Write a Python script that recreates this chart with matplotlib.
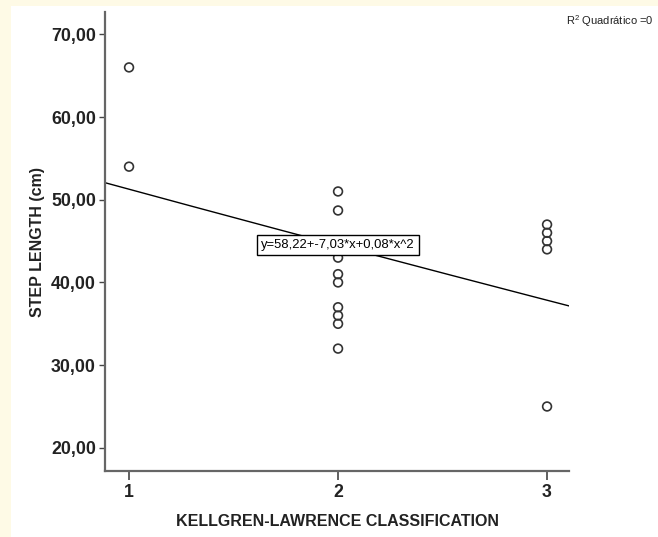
import matplotlib
matplotlib.use("Agg")
import matplotlib.pyplot as plt
from matplotlib.patches import Rectangle
import numpy as np

# Data
grade = [1, 1,
         2, 2, 2, 2, 2, 2, 2, 2, 2,
         3, 3, 3, 3, 3]
step_length = [66, 54,
               51, 48.7, 43, 41, 40, 37, 36, 35, 32,
               47, 46, 45, 44, 25]

# quadratic fit shown on the chart
coef = [58.22, -7.03, 0.08]
fit_label = "y=58,22+-7,03*x+0,08*x^2"

x_ticks = [1, 2, 3]
y_ticks = [20, 30, 40, 50, 60, 70]
x_range = (0.885, 3.105)
y_range = (17.2, 72.7)

plt.rcParams['font.family'] = ['Liberation Sans', 'DejaVu Sans']
plt.rcParams['mathtext.fontset'] = 'custom'
plt.rcParams['mathtext.rm'] = 'Liberation Sans'
plt.rcParams['mathtext.it'] = 'Liberation Sans'

fig = plt.figure(figsize=(6.58, 5.37), dpi=100)
fig.patch.set_facecolor('#fefae6')
# white panel behind the chart
fig.patches.append(Rectangle((11 / 658, 0), 1, 1 - 6 / 537,
                             transform=fig.transFigure,
                             facecolor='white', edgecolor='none', zorder=-10))

ax = fig.add_axes([105 / 658, 1 - 471 / 537, 464 / 658, 459 / 537])
ax.set_facecolor('white')

ax.scatter(grade, step_length, s=40, facecolors='none',
           edgecolors='#333333', linewidths=1.2, zorder=3)

# fit line
xs = np.linspace(x_range[0], x_range[1], 200)
ys = coef[0] + coef[1] * xs + coef[2] * xs ** 2
ax.plot(xs, ys, color='black', linewidth=1.0, zorder=2)

# equation box at x = 2
bx = 2
by = coef[0] + coef[1] * bx + coef[2] * bx ** 2
ax.text(bx, by, fit_label, ha='center', va='center', fontsize=9.4,
        zorder=4,
        bbox=dict(boxstyle='square,pad=0.3', facecolor='white',
                  edgecolor='black', linewidth=1.0))

ax.set_xlim(*x_range)
ax.set_ylim(*y_range)
ax.set_xticks(x_ticks)
ax.set_yticks(y_ticks)
ax.set_yticklabels([f"{v:.2f}".replace('.', ',') for v in y_ticks])

for side in ['top', 'right']:
    ax.spines[side].set_visible(False)
for side in ['left', 'bottom']:
    ax.spines[side].set_color('#666666')
    ax.spines[side].set_linewidth(1.6)

ax.tick_params(axis='y', length=4.5, width=1.0, color='#444444', pad=2,
               labelsize=12.8, labelcolor='#222222')
ax.tick_params(axis='x', length=6.5, width=1.2, color='#444444', pad=3,
               labelsize=12.8, labelcolor='#222222')
for lab in ax.get_xticklabels() + ax.get_yticklabels():
    lab.set_fontweight('bold')

ax.set_xlabel("KELLGREN-LAWRENCE CLASSIFICATION", fontsize=11.5,
              fontweight='bold', color='#222222')
ax.xaxis.set_label_coords(0.501, -0.0937)
ax.set_ylabel("STEP LENGTH (cm)", fontsize=11.5, fontweight='bold',
              color='#222222')
ax.yaxis.set_label_coords(-0.129, 0.499)

fig.text(566 / 658, 1 - 25 / 537, r"R$^{2}$ Quadrático =0", fontsize=8.0,
         ha='left', va='baseline', color='#222222')

fig.savefig("out.png", dpi=100, facecolor=fig.get_facecolor())
